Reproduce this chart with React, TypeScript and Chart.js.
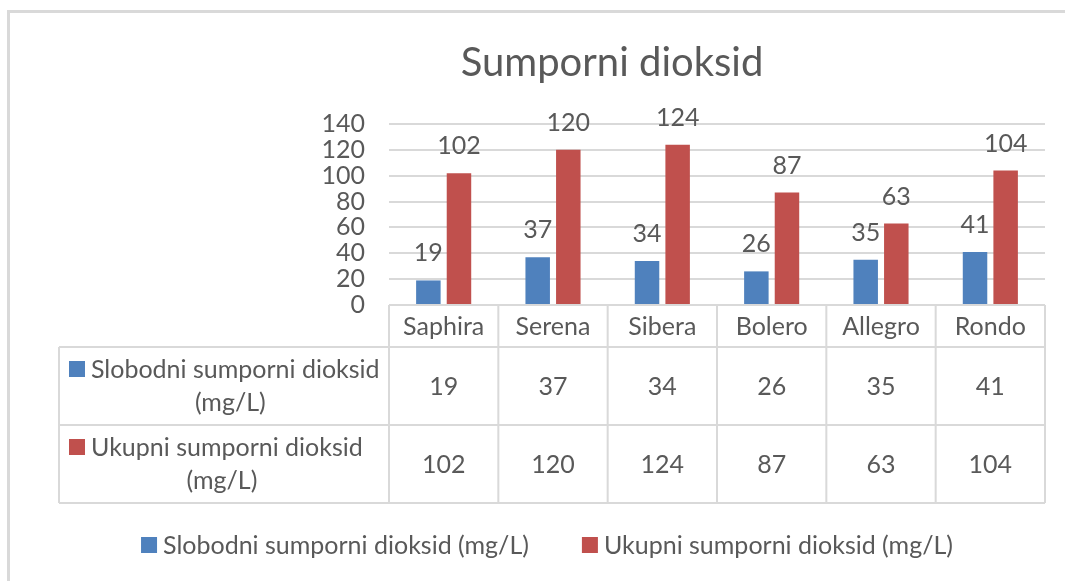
import React, { useEffect, useRef } from 'react';
import { Chart, registerables } from 'chart.js';

Chart.register(...registerables);

// ---- data ----
const categories = ['Saphira', 'Serena', 'Sibera', 'Bolero', 'Allegro', 'Rondo'];
const slobodniValues = [19, 37, 34, 26, 35, 41];
const ukupniValues = [102, 120, 124, 87, 63, 104];
const seriesNames = ['Slobodni sumporni dioksid (mg/L)', 'Ukupni sumporni dioksid (mg/L)'];
const seriesColors = ['#4F81BD', '#C0504D'];
const chartTitle = 'Sumporni dioksid';
const yMin = 0;
const yMax = 140;
const yStep = 20;

// ---- styles ----
const FONT = 'Lato, "Open Sans", sans-serif';
const TEXT = '#595959';
const LINE = '#D9D9D9';
const FS = 25;

const W = 1065;
const H = 581;

const decorPlugin = {
  id: 'excelDecor',
  afterDraw(chart: any) {
    const { ctx, chartArea } = chart;
    const xs = chart.scales.x;
    const n = chart.data.labels.length;
    const cw = (chartArea.right - chartArea.left) / n;
    const top = chartArea.bottom;
    const catH = 42;
    const rowH = 78;
    const tableLeft = 59;
    const rowsTop = top + catH;
    const bottom = rowsTop + rowH * 2;

    ctx.save();

    // outer frame
    ctx.strokeStyle = LINE;
    ctx.lineWidth = 3;
    ctx.beginPath();
    ctx.moveTo(8.5, H);
    ctx.lineTo(8.5, 11.5);
    ctx.lineTo(W, 11.5);
    ctx.stroke();

    // title
    ctx.fillStyle = TEXT;
    ctx.font = `40px ${FONT}`;
    ctx.textAlign = 'center';
    ctx.textBaseline = 'middle';
    ctx.fillText(chartTitle, 612, 63);

    // data labels
    ctx.font = `${FS}px ${FONT}`;
    chart.data.datasets.forEach((ds: any, di: number) => {
      const meta = chart.getDatasetMeta(di);
      meta.data.forEach((el: any, i: number) => {
        ctx.fillText(String(ds.data[i]), el.x, el.y - 27);
      });
    });

    // table lines
    ctx.strokeStyle = LINE;
    ctx.lineWidth = 2;
    ctx.beginPath();
    ctx.moveTo(chartArea.left, top);
    ctx.lineTo(chartArea.right, top);
    ctx.moveTo(tableLeft, rowsTop);
    ctx.lineTo(chartArea.right, rowsTop);
    ctx.moveTo(tableLeft, rowsTop + rowH);
    ctx.lineTo(chartArea.right, rowsTop + rowH);
    ctx.moveTo(tableLeft, bottom);
    ctx.lineTo(chartArea.right, bottom);
    ctx.moveTo(tableLeft, rowsTop);
    ctx.lineTo(tableLeft, bottom);
    for (let i = 0; i <= n; i++) {
      const bx = i < n ? xs.getPixelForValue(i) - cw / 2 : xs.getPixelForValue(n - 1) + cw / 2;
      ctx.moveTo(bx, top);
      ctx.lineTo(bx, bottom);
    }
    ctx.stroke();

    // category labels + values
    ctx.fillStyle = TEXT;
    ctx.font = `${FS}px ${FONT}`;
    ctx.textAlign = 'center';
    ctx.textBaseline = 'middle';
    chart.data.labels.forEach((lab: string, i: number) => {
      const cx = xs.getPixelForValue(i);
      ctx.fillText(lab, cx, top + catH / 2 + 1);
      chart.data.datasets.forEach((ds: any, di: number) => {
        ctx.fillText(String(ds.data[i]), cx, rowsTop + rowH * di + rowH / 2 + 1);
      });
    });

    // series names in left column
    chart.data.datasets.forEach((ds: any, di: number) => {
      const name: string = ds.label;
      const k = name.indexOf(' (');
      const l1 = k >= 0 ? name.slice(0, k) : name;
      const l2 = k >= 0 ? name.slice(k + 1) : '';
      const ry = rowsTop + rowH * di;
      const sx = tableLeft + 10;
      ctx.fillStyle = ds.backgroundColor;
      ctx.fillRect(sx, ry + 22 - 8, 16, 16);
      ctx.fillStyle = TEXT;
      ctx.textAlign = 'left';
      ctx.fillText(l1, sx + 22, ry + 23);
      ctx.textAlign = 'center';
      const w1 = ctx.measureText(l1).width;
      ctx.fillText(l2, sx + (22 + w1) / 2 + 6, ry + 56);
    });

    // legend
    const gap = 53;
    const items = chart.data.datasets.map((ds: any) => ({
      label: ds.label,
      color: ds.backgroundColor,
      w: 16 + 6 + ctx.measureText(ds.label).width,
    }));
    const total = items.reduce((s: number, it: any) => s + it.w, 0) + gap * (items.length - 1);
    let lx = 547 - total / 2;
    const ly = 545;
    ctx.textAlign = 'left';
    items.forEach((it: any) => {
      ctx.fillStyle = it.color;
      ctx.fillRect(lx, ly - 8, 16, 16);
      ctx.fillStyle = TEXT;
      ctx.fillText(it.label, lx + 22, ly + 1);
      lx += it.w + gap;
    });

    ctx.restore();
  },
};

export default function App() {
  const ref = useRef<HTMLCanvasElement | null>(null);

  useEffect(() => {
    document.body.style.margin = '0';
    const canvas = ref.current;
    if (!canvas) return;
    const chart = new Chart(canvas, {
      type: 'bar',
      data: {
        labels: categories,
        datasets: [
          {
            label: seriesNames[0],
            data: slobodniValues,
            backgroundColor: seriesColors[0],
            categoryPercentage: 0.56,
            barPercentage: 0.8,
          },
          {
            label: seriesNames[1],
            data: ukupniValues,
            backgroundColor: seriesColors[1],
            categoryPercentage: 0.56,
            barPercentage: 0.8,
          },
        ],
      },
      options: {
        animation: false,
        responsive: false,
        devicePixelRatio: 1,
        layout: { padding: { left: 0, right: 20, top: 124, bottom: 276 } },
        plugins: {
          legend: { display: false },
          title: { display: false },
          tooltip: { enabled: false },
        },
        scales: {
          x: { display: false },
          y: {
            min: yMin,
            max: yMax,
            afterFit(scale: any) {
              scale.width = 389;
            },
            ticks: {
              stepSize: yStep,
              autoSkip: false,
              padding: 24,
              color: TEXT,
              font: { family: FONT, size: FS },
            },
            grid: { color: LINE, lineWidth: 2, drawTicks: false },
            border: { display: false },
          },
        },
      },
      plugins: [decorPlugin],
    });
    return () => chart.destroy();
  }, []);

  return <canvas ref={ref} width={W} height={H} style={{ display: 'block' }} />;
}
